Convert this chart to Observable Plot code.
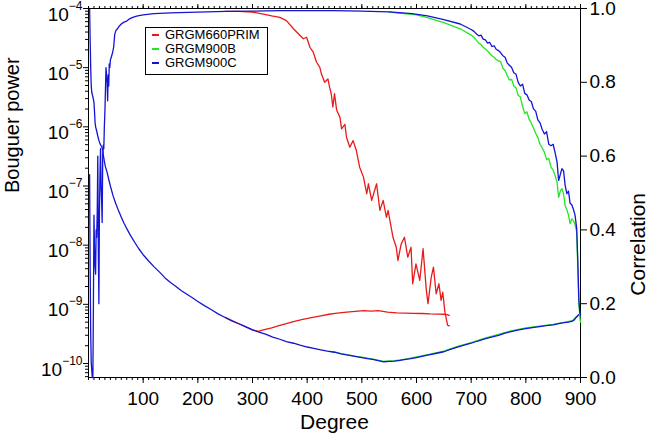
<!DOCTYPE html>
<html>
<head>
<meta charset="utf-8">
<script src="https://cdn.jsdelivr.net/npm/d3@7"></script>
<script src="https://cdn.jsdelivr.net/npm/@observablehq/plot@0.6"></script>
<style>
  html, body { margin: 0; padding: 0; background: #fff; }
  #chart { position: relative; width: 649px; height: 435px; font-family: "Liberation Sans", Arial, Helvetica, sans-serif; }
  #chart svg { position: absolute; left: 0; top: 0; }
  #legend { position: absolute; left: 145px; top: 27px; width: 123px; height: 48px; box-sizing: border-box;
            border: 1px solid #000; background: #fff; font-size: 13px; color: #000; }
  #legend .row { position: absolute; left: 0; height: 14px; line-height: 14px; padding-left: 19px; white-space: nowrap; }
  #legend .dash { position: absolute; left: 6px; top: 6px; width: 7px; height: 2px; }
</style>
</head>
<body>
<div id="chart"></div>
<script>
// ---------------- data ----------------
const seriesNames = ["GRGM660PRIM", "GRGM900B", "GRGM900C"];
const seriesColors = ["#ea1a1a", "#22e622", "#1414d6"];

// Bouguer power, [degree, power]
const bluePower = [
  [2,1.0e-4],[3,3.0e-5],[4,1.0e-5],[5,5.0e-6],[6,3.8e-6],[7,3.5e-6],[8,3.2e-6],[9,2.9e-6],[10,2.6e-6],
  [11,1.8e-6],[12,1.2e-6],[13,1.0e-6],[15,8.5e-7],[17,7.0e-7],[19,5.9e-7],[21,5.2e-7],[23,4.8e-7],
  [25,4.4e-7],[27,3.4e-7],[29,2.6e-7],[31,2.1e-7],[34,1.7e-7],[37,1.3e-7],[40,1.0e-7],[45,6.8e-8],
  [50,5.0e-8],[55,3.8e-8],[60,2.95e-8],[65,2.34e-8],[70,1.9e-8],[77,1.45e-8],[85,1.1e-8],[92,8.7e-9],
  [100,6.9e-9],[110,5.4e-9],[120,4.3e-9],[130,3.5e-9],[140,2.8e-9],[150,2.34e-9],[160,2.0e-9],
  [170,1.7e-9],[180,1.48e-9],[190,1.29e-9],[200,1.12e-9],[212,9.5e-10],[225,8.1e-10],[237,6.9e-10],
  [250,6.0e-10],[262,5.25e-10],[275,4.7e-10],[287,4.2e-10],[300,3.7e-10],[312,3.4e-10],[325,3.1e-10],
  [337,2.8e-10],[350,2.57e-10],[362,2.34e-10],[375,2.2e-10],[387,2.04e-10],[400,1.9e-10],[412,1.8e-10],
  [425,1.7e-10],[437,1.62e-10],[450,1.55e-10],[462,1.45e-10],[475,1.38e-10],[487,1.32e-10],
  [500,1.26e-10],[510,1.21e-10],[520,1.17e-10],[530,1.12e-10],[540,1.07e-10],[550,1.09e-10],[560,1.1e-10],
  [570,1.13e-10],[580,1.17e-10],[590,1.21e-10],[600,1.26e-10],[612,1.33e-10],[625,1.41e-10],[637,1.49e-10],
  [650,1.58e-10],[662,1.73e-10],[675,1.9e-10],[687,2.05e-10],[700,2.2e-10],[712,2.4e-10],[725,2.6e-10],
  [737,2.8e-10],[750,3.0e-10],[762,3.25e-10],[775,3.5e-10],[787,3.7e-10],[800,3.9e-10],[812,4.05e-10],
  [825,4.2e-10],[837,4.35e-10],[850,4.5e-10],[860,4.7e-10],[870,4.9e-10],[878,5.0e-10],[885,5.2e-10],
  [889,5.5e-10],[892,6.0e-10],[896,6.6e-10],[900,7.0e-10]
];
const greenPower = [
  [440,1.6e-10],[450,1.57e-10],[462,1.47e-10],[475,1.40e-10],[487,1.33e-10],[500,1.28e-10],[520,1.19e-10],
  [540,1.09e-10],[560,1.12e-10],[580,1.19e-10],[600,1.29e-10],[625,1.44e-10],[650,1.62e-10],[675,1.95e-10],
  [700,2.26e-10],[725,2.68e-10],[750,3.1e-10],[775,3.6e-10],[800,4.0e-10],[825,4.3e-10],[850,4.6e-10],
  [870,4.95e-10],[885,5.3e-10],[892,6.1e-10],[896,6.5e-10],[900,6.6e-10]
];
const redPower = [
  [250,6.0e-10],[275,4.7e-10],[300,3.7e-10],[310,3.5e-10],[320,3.7e-10],[335,4.0e-10],[350,4.4e-10],
  [362,4.7e-10],[375,5.1e-10],[390,5.5e-10],[410,6.0e-10],[425,6.4e-10],[440,6.8e-10],[455,7.1e-10],
  [472,7.4e-10],[488,7.6e-10],[503,7.8e-10],[517,7.7e-10],[530,7.8e-10],[547,7.4e-10],[564,7.2e-10],
  [580,7.1e-10],[595,7.05e-10],[610,7.0e-10],[625,6.9e-10],[640,6.85e-10],[650,6.8e-10],[656,6.7e-10],[660,6.5e-10]
];

// Correlation, [degree, correlation]
const blueCorr = [
  [2,0.55],[3,0.30],[4,0.12],[5,0.04],[6,0.02],[7,0.0],[8,0.0],[9,0.2],[10,0.44],[11,0.35],[12,0.30],
  [13,0.28],[14,0.40],[15,0.38],[16,0.45],[17,0.60],[18,0.35],[19,0.20],[20,0.45],[21,0.55],[22,0.62],
  [23,0.52],[24,0.48],[25,0.42],[26,0.60],[27,0.63],[28,0.62],[29,0.68],[30,0.72],[31,0.78],[32,0.84],
  [33,0.82],[34,0.80],[35,0.75],[36,0.82],[37,0.79],[38,0.85],[39,0.84],[40,0.86],[42,0.87],[44,0.88],
  [46,0.895],[48,0.93],[50,0.94],[53,0.945],[56,0.952],[60,0.958],[65,0.963],[70,0.966],[75,0.972],
  [80,0.975],[85,0.978],[90,0.98],[100,0.983],[120,0.986],[150,0.988],[200,0.99],[250,0.992],[300,0.993],
  [350,0.994],[400,0.994],[450,0.994],[500,0.993],[550,0.991],[592,0.986],[620,0.980],[650,0.970],
  [680,0.958],[700,0.943],[705,0.938],[710,0.931],[714,0.926],[718,0.928],[722,0.917],[726,0.915],
  [730,0.906],[734,0.908],[738,0.897],[742,0.899],[746,0.889],[750,0.886],[754,0.880],[758,0.872],
  [762,0.868],[766,0.852],[770,0.846],[774,0.840],[778,0.826],[782,0.822],[786,0.800],[790,0.790],
  [794,0.795],[798,0.770],[802,0.766],[806,0.752],[810,0.748],[814,0.728],[818,0.722],[822,0.698],
  [826,0.690],[830,0.672],[834,0.660],[838,0.666],[842,0.632],[846,0.628],[850,0.632],[854,0.606],
  [857,0.585],[860,0.534],[863,0.550],[866,0.566],[869,0.560],[872,0.520],[875,0.498],[878,0.505],
  [881,0.472],[884,0.468],[887,0.456],[890,0.440],[893,0.405],[895,0.320],[897,0.21],[899,0.175],[900,0.17]
];
const greenCorr = [
  [550,0.990],[600,0.983],[620,0.975],[650,0.962],[680,0.945],[700,0.928],[705,0.922],[710,0.913],
  [714,0.906],[718,0.902],[722,0.895],[726,0.890],[730,0.885],[734,0.878],[738,0.872],[742,0.868],
  [746,0.862],[750,0.858],[754,0.856],[758,0.838],[762,0.832],[766,0.818],[770,0.806],[774,0.808],
  [778,0.790],[782,0.785],[786,0.765],[790,0.760],[794,0.735],[798,0.715],[802,0.720],[806,0.700],
  [810,0.690],[814,0.676],[818,0.662],[822,0.650],[826,0.632],[830,0.622],[834,0.610],[838,0.590],
  [842,0.594],[846,0.570],[850,0.562],[854,0.545],[857,0.530],[860,0.488],[863,0.505],[866,0.512],
  [869,0.498],[872,0.465],[875,0.455],[878,0.440],[881,0.417],[884,0.430],[887,0.425],[890,0.415],
  [893,0.395],[895,0.300],[897,0.20],[899,0.16],[900,0.15]
];
const redCorr = [
  [250,0.992],[275,0.992],[300,0.990],[320,0.985],[335,0.980],[350,0.976],[362,0.967],[375,0.945],
  [387,0.927],[393,0.918],[399,0.922],[405,0.895],[411,0.882],[417,0.855],[423,0.841],[426,0.823],
  [432,0.800],[438,0.809],[441,0.787],[444,0.769],[447,0.733],[450,0.769],[454,0.724],[460,0.705],
  [463,0.674],[469,0.686],[472,0.651],[478,0.624],[484,0.642],[490,0.615],[496,0.570],[503,0.543],
  [509,0.498],[512,0.525],[518,0.480],[527,0.525],[533,0.453],[539,0.480],[545,0.434],[548,0.453],
  [557,0.380],[563,0.353],[566,0.317],[572,0.362],[578,0.380],[584,0.326],[590,0.353],[593,0.254],
  [599,0.308],[606,0.263],[612,0.349],[618,0.236],[621,0.200],[627,0.272],[631,0.299],[636,0.227],
  [641,0.254],[645,0.209],[648,0.231],[652,0.177],[657,0.141],[660,0.14]
];

// axis ticks
const xTicks = [100, 200, 300, 400, 500, 600, 700, 800, 900];
const xMinorTicks = d3.range(0, 901, 10);
const powerTicks = [1e-10, 1e-9, 1e-8, 1e-7, 1e-6, 1e-5, 1e-4];
const corrTicks = [0, 0.2, 0.4, 0.6, 0.8, 1.0];

// ---------------- layout ----------------
const W = 649, H = 435;
const margins = { marginLeft: 88, marginRight: 69, marginTop: 8, marginBottom: 58 };
const font = "'Liberation Sans', Arial, Helvetica, sans-serif";
const powerDomain = [5.8e-11, 1e-4];
const powerMinorTicks = [];
for (let e = -11; e <= -5; e++) for (let k = 2; k <= 9; k++) {
  const v = k * Math.pow(10, e);
  if (v >= powerDomain[0] && v <= powerDomain[1]) powerMinorTicks.push(v);
}
const lineOpts = (color) => ({ x: d => d[0], y: d => d[1], stroke: color, strokeWidth: 1.3, strokeLinejoin: "round" });

const powerPlot = Plot.plot({
  width: W, height: H, ...margins,
  style: { fontFamily: font, fontSize: "19px", color: "#000", background: "transparent", overflow: "visible" },
  x: { domain: [0, 900] },
  y: { type: "log", domain: powerDomain },
  marks: [
    Plot.line(redPower, lineOpts(seriesColors[0])),
    Plot.line(greenPower, lineOpts(seriesColors[1])),
    Plot.line(bluePower, lineOpts(seriesColors[2])),
    Plot.frame({ stroke: "#000" }),
    Plot.axisX({ ticks: xTicks, tickSize: 6, tickPadding: 8, tickFormat: d => String(d), label: null }),
    Plot.axisX({ ticks: xMinorTicks, tickSize: 3, tickFormat: () => "", label: null }),
    Plot.axisX({ anchor: "top", ticks: xTicks, tickSize: 5, tickFormat: () => "", label: null }),
    Plot.axisX({ anchor: "top", ticks: xMinorTicks, tickSize: 3, tickFormat: () => "", label: null }),
    Plot.axisY({ ticks: powerTicks, tickSize: 5, tickPadding: 1, tickFormat: d => "10^" + Math.round(Math.log10(d)), label: null }),
    Plot.axisY({ ticks: powerMinorTicks, tickSize: 3, tickFormat: () => "", label: null }),
    Plot.text(["Degree"], { frameAnchor: "bottom", dy: 51, text: d => d, fontSize: 21, fill: "#000" }),
    Plot.text(["Bouguer power"], { frameAnchor: "left", dx: -76, rotate: -90, text: d => d, fontSize: 20, fill: "#000" })
  ]
});

const corrPlot = Plot.plot({
  width: W, height: H, ...margins,
  style: { fontFamily: font, fontSize: "19px", color: "#000", background: "transparent", overflow: "visible" },
  x: { domain: [0, 900], axis: null },
  y: { domain: [0, 1] },
  marks: [
    Plot.line(redCorr, lineOpts(seriesColors[0])),
    Plot.line(greenCorr, lineOpts(seriesColors[1])),
    Plot.line(blueCorr, lineOpts(seriesColors[2])),
    Plot.axisY({ anchor: "right", ticks: corrTicks, tickSize: 6, tickPadding: 3, tickFormat: d => d.toFixed(1), label: null }),
    Plot.text(["Correlation"], { frameAnchor: "right", dx: 58, rotate: -90, text: d => d, fontSize: 21, fill: "#000" })
  ]
});

// superscript exponents on the power axis
const NS = "http://www.w3.org/2000/svg";
powerPlot.querySelectorAll("text").forEach(t => {
  const m = t.textContent.match(/^10\^(-?\d+)$/);
  if (!m) return;
  t.textContent = "";
  const base = document.createElementNS(NS, "tspan");
  base.setAttribute("dy", "6");
  base.textContent = "10";
  const sup = document.createElementNS(NS, "tspan");
  sup.setAttribute("dy", "-11");
  sup.setAttribute("font-size", "12px");
  sup.textContent = m[1].replace("-", "\u2212");
  t.appendChild(base);
  t.appendChild(sup);
});

const chart = document.getElementById("chart");
chart.appendChild(powerPlot);
chart.appendChild(corrPlot);

// legend
const legend = document.createElement("div");
legend.id = "legend";
seriesNames.forEach((name, i) => {
  const row = document.createElement("div");
  row.className = "row";
  row.style.top = (i * 14) + "px";
  const dash = document.createElement("span");
  dash.className = "dash";
  dash.style.background = seriesColors[i];
  row.appendChild(dash);
  row.appendChild(document.createTextNode(name));
  legend.appendChild(row);
});
chart.appendChild(legend);
</script>
</body>
</html>
